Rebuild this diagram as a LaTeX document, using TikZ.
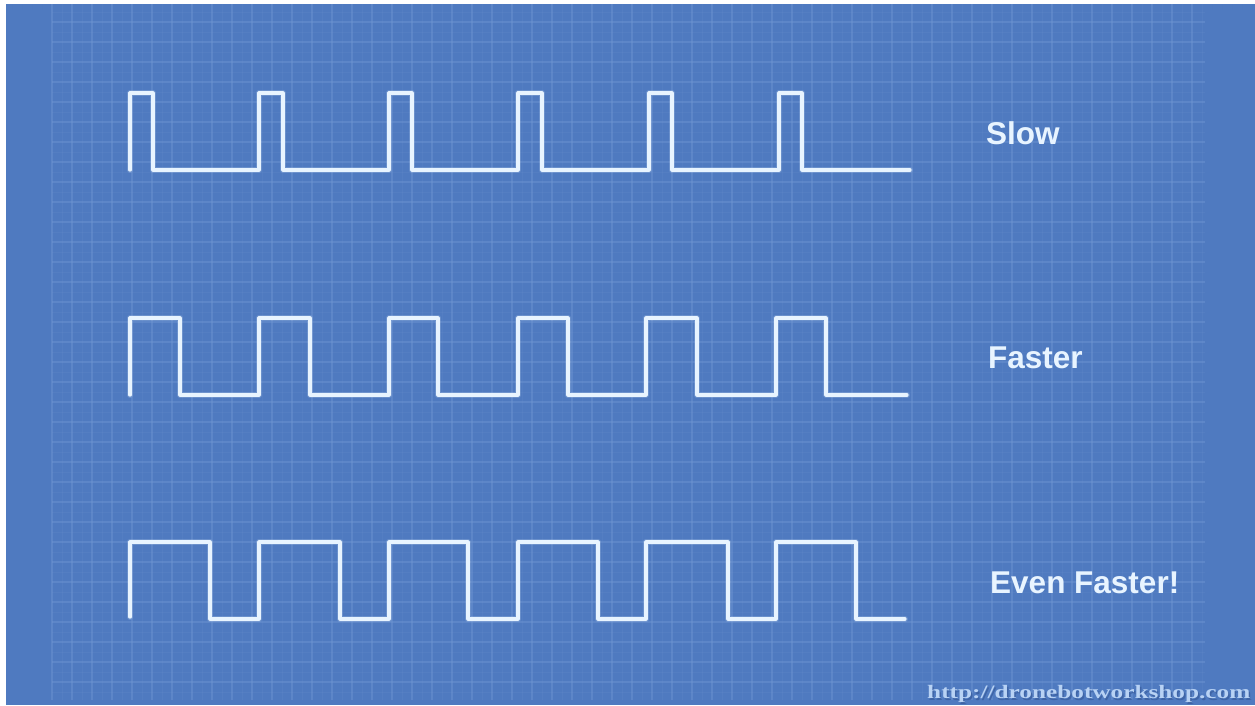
\documentclass[tikz,border=0pt]{standalone}
\usepackage{fontspec}
\setmainfont{Liberation Sans}
\newfontfamily\wmfont{Liberation Serif}
\definecolor{bg}{HTML}{4F7AC0}
\definecolor{gridc}{HTML}{7398D4}
\definecolor{wavec}{HTML}{E8F4FF}
\definecolor{wmc}{HTML}{B8D2F4}
\definecolor{wmshadow}{HTML}{3E64A6}
\begin{document}
\begin{tikzpicture}[x=1pt,y=-1pt,
  wave/.style={draw=wavec, line width=3.2pt, line join=round, line cap=round},
  glow/.style={draw=wavec, line width=6pt, line join=round, line cap=round, opacity=0.18},
  lbl/.style={text=wavec, font=\fontsize{31.5}{37}\selectfont\bfseries, anchor=base west, inner sep=0pt},
  majorgrid/.style={draw=gridc, line width=1.2pt, opacity=0.4},
  minorgrid/.style={draw=gridc, line width=0.8pt, opacity=0.15}]
\useasboundingbox (0,0) rectangle (1255,706);
\fill[white] (0,0) rectangle (1255,706);
\fill[bg] (6,4) rectangle (1255,705);
% grid
\foreach \x in {62,82,...,1202} \draw[minorgrid] (\x,4) -- (\x,700);
\foreach \y in {12,32,...,692} \draw[minorgrid] (52,\y) -- (1205,\y);
\foreach \x in {52,72,...,1192} \draw[majorgrid] (\x,4) -- (\x,700);
\foreach \y in {22,42,...,682} \draw[majorgrid] (52,\y) -- (1205,\y);
% Slow
\foreach \s in {glow,wave}
\draw[\s] (130,170) -- (130,93) -- (153,93) -- (153,170)
  -- (259,170) -- (259,93) -- (283,93) -- (283,170)
  -- (389,170) -- (389,93) -- (412,93) -- (412,170)
  -- (518,170) -- (518,93) -- (542,93) -- (542,170)
  -- (649,170) -- (649,93) -- (672,93) -- (672,170)
  -- (779,170) -- (779,93) -- (802,93) -- (802,170) -- (910,170);
% Faster
\foreach \s in {glow,wave}
\draw[\s] (130,395) -- (130,318) -- (180,318) -- (180,395)
  -- (259,395) -- (259,318) -- (310,318) -- (310,395)
  -- (389,395) -- (389,318) -- (438,318) -- (438,395)
  -- (518,395) -- (518,318) -- (568,318) -- (568,395)
  -- (646,395) -- (646,318) -- (697,318) -- (697,395)
  -- (776,395) -- (776,318) -- (826,318) -- (826,395) -- (907,395);
% Even faster
\foreach \s in {glow,wave}
\draw[\s] (130,617) -- (130,542) -- (210,542) -- (210,619)
  -- (259,619) -- (259,542) -- (340,542) -- (340,619)
  -- (389,619) -- (389,542) -- (468,542) -- (468,619)
  -- (518,619) -- (518,542) -- (598,542) -- (598,619)
  -- (646,619) -- (646,542) -- (728,542) -- (728,619)
  -- (776,619) -- (776,542) -- (856,542) -- (856,619) -- (905,619);
% labels
\node[lbl] (slow) at (986,145) {Slow};
\node[lbl] (faster) at (988,368) {Faster};
\node[lbl] (even) at (990,593) {Even Faster!};
% watermark
\node[anchor=base west, inner sep=0pt, text=wmshadow, font=\wmfont\fontsize{19}{22}\selectfont\bfseries] (wmsh) at (928.5,700) {\scalebox{1.33}[1]{http://dronebotworkshop.com}};
\node[anchor=base west, inner sep=0pt, text=wmc, font=\wmfont\fontsize{19}{22}\selectfont\bfseries] (wm) at (927,698.5) {\scalebox{1.33}[1]{http://dronebotworkshop.com}};
\end{tikzpicture}
\end{document}
